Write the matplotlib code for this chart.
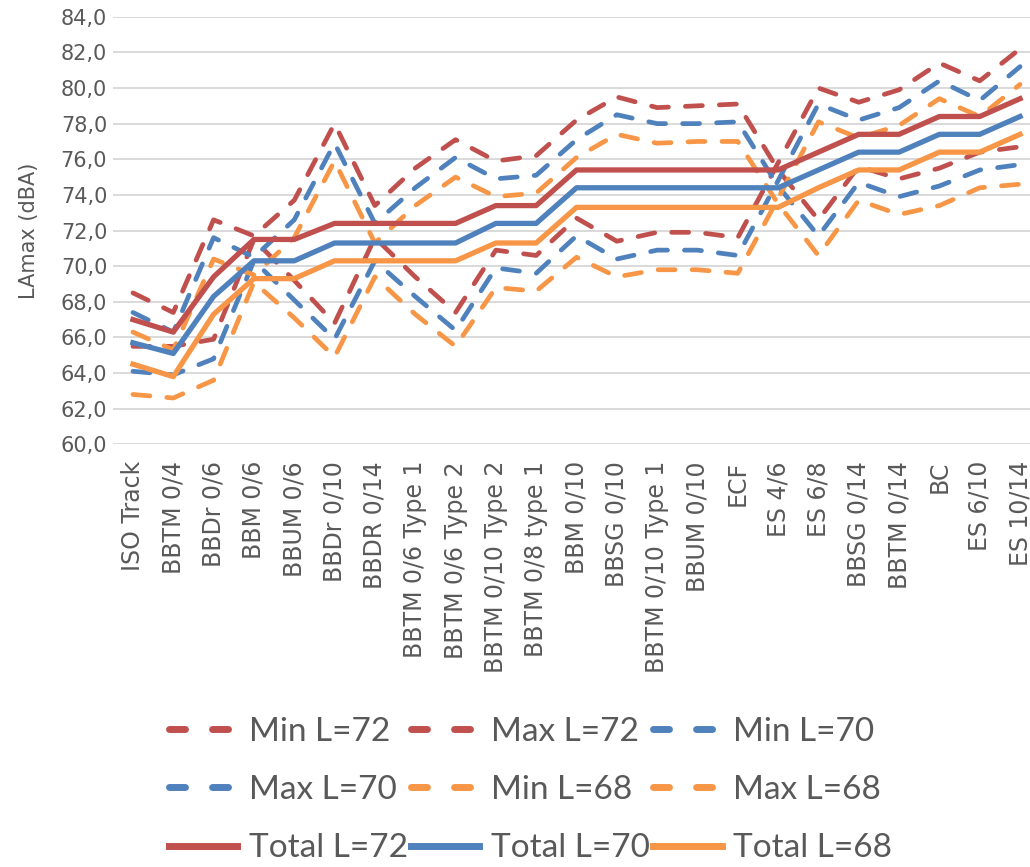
import numpy as np
import matplotlib.pyplot as plt
from matplotlib.lines import Line2D

categories = ['ISO Track', 'BBTM 0/4', 'BBDr 0/6', 'BBM 0/6', 'BBUM 0/6',
              'BBDr 0/10', 'BBDR 0/14', 'BBTM 0/6 Type 1', 'BBTM 0/6 Type 2',
              'BBTM 0/10 Type 2', 'BBTM 0/8 type 1', 'BBM 0/10', 'BBSG 0/10',
              'BBTM 0/10 Type 1', 'BBUM 0/10', 'ECF', 'ES 4/6', 'ES 6/8',
              'BBSG 0/14', 'BBTM 0/14', 'BC', 'ES 6/10', 'ES 10/14']

min_72 = [65.5, 65.5, 65.9, 71.5, 69.2, 66.8, 71.6, 69.4, 67.4, 70.9, 70.6, 72.7,
          71.4, 71.9, 71.9, 71.6, 75.8, 80.0, 79.2, 79.9, 81.4, 80.4, 82.2]
max_72 = [68.5, 67.4, 72.6, 71.7, 73.7, 78.0, 73.4, 75.5, 77.1, 75.9, 76.2, 78.2,
          79.5, 78.9, 79.0, 79.1, 75.4, 72.6, 75.6, 74.9, 75.5, 76.4, 76.7]
min_70 = [64.1, 63.9, 64.8, 70.3, 68.1, 65.9, 70.3, 68.3, 66.4, 69.9, 69.6, 71.7,
          70.4, 70.9, 70.9, 70.6, 74.8, 79.1, 78.2, 78.9, 80.4, 79.3, 81.2]
max_70 = [67.4, 66.3, 71.6, 70.5, 72.6, 76.9, 72.4, 74.4, 76.1, 74.9, 75.1, 77.1,
          78.5, 78.0, 78.0, 78.1, 74.5, 71.7, 74.7, 73.9, 74.5, 75.4, 75.7]
min_68 = [62.8, 62.6, 63.6, 69.1, 67.1, 64.9, 69.4, 67.3, 65.5, 68.8, 68.6, 70.5,
          69.4, 69.8, 69.8, 69.6, 73.8, 78.1, 77.2, 77.9, 79.4, 78.4, 80.2]
max_68 = [66.3, 65.3, 70.4, 69.5, 71.6, 75.9, 71.3, 73.4, 75.0, 73.9, 74.1, 76.1,
          77.4, 76.9, 77.0, 77.0, 73.5, 70.6, 73.7, 72.9, 73.4, 74.4, 74.6]
total_72 = [67.0, 66.3, 69.4, 71.5, 71.5, 72.4, 72.4, 72.4, 72.4, 73.4, 73.4, 75.4,
            75.4, 75.4, 75.4, 75.4, 75.4, 76.4, 77.4, 77.4, 78.4, 78.4, 79.4]
total_70 = [65.7, 65.1, 68.3, 70.3, 70.3, 71.3, 71.3, 71.3, 71.3, 72.4, 72.4, 74.4,
            74.4, 74.4, 74.4, 74.4, 74.4, 75.4, 76.4, 76.4, 77.4, 77.4, 78.4]
total_68 = [64.5, 63.8, 67.3, 69.3, 69.3, 70.3, 70.3, 70.3, 70.3, 71.3, 71.3, 73.3,
            73.3, 73.3, 73.3, 73.3, 73.3, 74.4, 75.4, 75.4, 76.4, 76.4, 77.4]

RED = '#C0504D'
BLUE = '#4F81BD'
ORANGE = '#F79646'
GREY = '#595959'

fig = plt.figure(figsize=(10.3, 8.67), dpi=100)
ax = fig.add_axes([0.1095, 0.4875, 0.9004, 0.4932])
x = np.arange(len(categories))

dashed = [(min_72, RED, 'Min L=72'), (max_72, RED, 'Max L=72'),
          (min_70, BLUE, 'Min L=70'), (max_70, BLUE, 'Max L=70'),
          (min_68, ORANGE, 'Min L=68'), (max_68, ORANGE, 'Max L=68')]
solid = [(total_72, RED, 'Total L=72'), (total_70, BLUE, 'Total L=70'),
         (total_68, ORANGE, 'Total L=68')]

handles = []
for vals, col, lab in dashed:
    ax.plot(x, vals, color=col, lw=3.4, dashes=(3.6, 3.6),
            dash_capstyle='round', dash_joinstyle='round')
    handles.append(Line2D([], [], color=col, lw=5, dashes=(2.3, 3.9),
                          dash_capstyle='round', label=lab))
for vals, col, lab in solid:
    ax.plot(x, vals, color=col, lw=3.8, solid_joinstyle='round')
    handles.append(Line2D([], [], color=col, lw=5, label=lab))

ax.set_xlim(-0.5, len(categories) - 0.5)
ax.set_ylim(60, 84)
yt = np.arange(60, 85, 2)
ax.set_yticks(yt)
ax.set_yticklabels([f'{v:.1f}'.replace('.', ',') for v in yt], family='DejaVu Sans')
ax.set_xticks(x)
ax.set_xticklabels(categories, rotation=90, fontsize=17, family='DejaVu Sans')
ax.tick_params(axis='y', length=0, labelsize=15, colors=GREY, pad=4)
ax.tick_params(axis='x', length=0, colors=GREY, pad=12)
ax.grid(axis='y', color='#D9D9D9', lw=1.4)
ax.set_axisbelow(True)
for s in ax.spines.values():
    s.set_visible(False)

ax.set_ylabel('LAmax (dBA)', fontsize=15, color=GREY, family='DejaVu Sans')
ax.yaxis.set_label_coords(-0.08, 0.5)

# legend filled row by row: reorder for matplotlib's column-major layout
order = [0, 3, 6, 1, 4, 7, 2, 5, 8]
leg = fig.legend([handles[i] for i in order], [handles[i].get_label() for i in order],
                 ncol=3, loc='center', bbox_to_anchor=(0.515, 0.089), frameon=False,
                 prop={'family': 'Lato', 'size': 24}, handlelength=2.05,
                 handletextpad=0.35, columnspacing=0.1, labelspacing=0.85,
                 borderpad=0.2)
for t in leg.get_texts():
    t.set_color(GREY)

fig.savefig('out.png', dpi=100)
